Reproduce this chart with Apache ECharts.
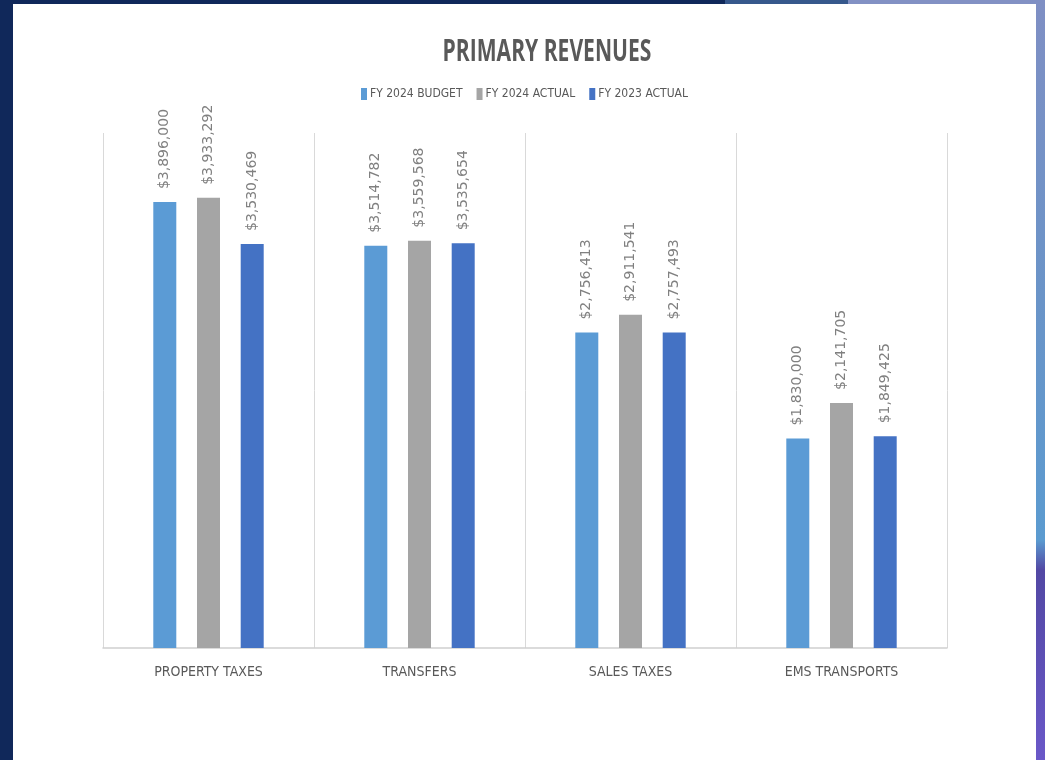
<!DOCTYPE html>
<html>
<head>
<meta charset="utf-8">
<script src="https://cdn.jsdelivr.net/npm/echarts@6/dist/echarts.min.js"></script>
<style>
  html, body { margin: 0; padding: 0; width: 1045px; height: 760px; overflow: hidden; }
  body {
    background: linear-gradient(to right, #10285a 0px, #10285a 725px, #36588c 725px, #36588c 848px, #8291c4 848px);
    position: relative;
  }
  #side {
    position: absolute; left: 1030px; top: 0; width: 15px; height: 760px;
    background: linear-gradient(to bottom, #7f8fc4 0px, #6a94c8 300px, #5b9bd0 540px, #5248a4 570px, #6a58c8 760px);
  }
  #main {
    position: absolute; left: 13px; top: 4px; width: 1023px; height: 756px;
    background: #ffffff;
  }
</style>
</head>
<body>
<div id="side"></div>
<div id="main"></div>
<script>
var categories = ['PROPERTY TAXES', 'TRANSFERS', 'SALES TAXES', 'EMS TRANSPORTS'];
var seriesNames = ['FY 2024 BUDGET', 'FY 2024 ACTUAL', 'FY 2023 ACTUAL'];
var budget2024 = [3896000, 3514782, 2756413, 1830000];
var actual2024 = [3933292, 3559568, 2911541, 2141705];
var actual2023 = [3530469, 3535654, 2757493, 1849425];
var colors = ['#5b9bd5', '#a5a5a5', '#4472c4'];

var narrow = "'Liberation Sans Narrow', 'DejaVu Sans Condensed', sans-serif";

function money(p) {
    return '$' + p.value.toLocaleString('en-US');
}

function makeSeries(name, values) {
    return {
        name: name,
        type: 'bar',
        data: values,
        barWidth: 23,
        barGap: '90%',
        label: {
            show: true,
            position: 'top',
            rotate: 90,
            align: 'left',
            verticalAlign: 'middle',
            distance: 13,
            color: '#808080',
            fontFamily: 'DejaVu Sans',
            fontSize: 14,
            formatter: money
        }
    };
}

var myChart = echarts.init(document.getElementById('main'));

var option = {
    color: colors,
    animation: false,
    // title drawn as text squeezed sideways, like the condensed face in the picture
    graphic: [{
        type: 'text',
        x: 534,
        y: 33,
        scaleX: 0.68,
        style: {
            text: 'PRIMARY REVENUES',
            textAlign: 'center',
            textVerticalAlign: 'top',
            font: "bold 31px 'Open Sans', sans-serif",
            fill: '#595959'
        }
    }],
    legend: {
        data: seriesNames,
        top: 79,
        left: 'center',
        itemWidth: 6,
        itemHeight: 12,
        itemGap: 14,
        icon: 'rect',
        textStyle: {
            fontFamily: narrow,
            fontSize: 12,
            color: '#595959',
            padding: [0, 0, 0, -2]
        }
    },
    grid: {
        left: 90,
        right: 89,
        top: 129,
        bottom: 112
    },
    xAxis: {
        type: 'category',
        data: categories,
        axisTick: { show: false },
        axisLine: { lineStyle: { color: '#d0d0d0', width: 1.5 } },
        splitLine: { show: true, lineStyle: { color: '#d9d9d9' } },
        axisLabel: {
            margin: 17,
            fontFamily: narrow,
            fontSize: 14,
            color: '#595959'
        }
    },
    yAxis: {
        type: 'value',
        min: 0,
        max: 4500000,
        show: false,
        splitLine: { show: false }
    },
    series: [
        makeSeries(seriesNames[0], budget2024),
        makeSeries(seriesNames[1], actual2024),
        makeSeries(seriesNames[2], actual2023)
    ]
};

myChart.setOption(option);
</script>
</body>
</html>
